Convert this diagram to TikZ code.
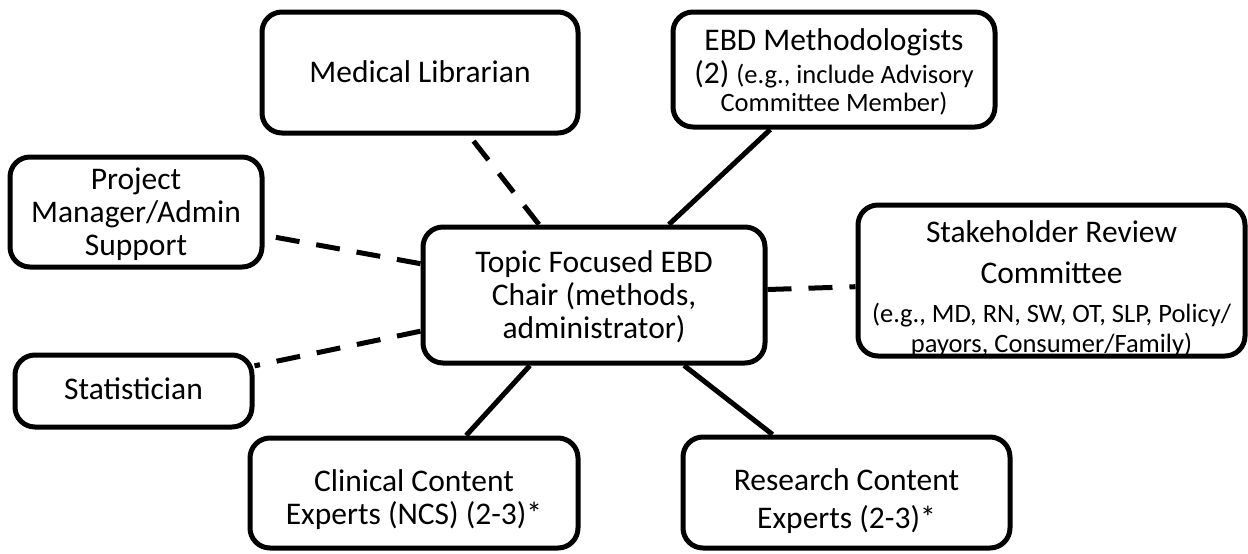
\documentclass[tikz,border=0pt]{standalone}
\usepackage{fontspec}
\setmainfont{Carlito}
\newcommand\bigtxt{\fontsize{31.5}{33}\selectfont}
\newcommand\smtxt{\fontsize{26.5}{28}\selectfont}
\begin{document}
\begin{tikzpicture}[x=1pt,y=-1pt,
  box/.style={draw, line width=5pt, rounded corners=20pt, inner sep=0pt, fill=white},
  lbl/.style={align=center, inner sep=0pt, font=\bigtxt},
  solidlink/.style={line width=5pt},
  dashlink/.style={line width=5pt, dash pattern=on 24pt off 17pt}]
\useasboundingbox (0,0) rectangle (1248,554);
\fill[white] (0,0) rectangle (1248,554);
% boxes
\node[box, minimum width=316pt, minimum height=121pt] (lib) at (420,72.5) {};
\node[box, minimum width=322pt, minimum height=115pt] (ebd) at (834,69.5) {};
\node[box, minimum width=252pt, minimum height=110pt] (pm) at (136,212) {};
\node[box, minimum width=237pt, minimum height=72pt] (stat) at (133.5,391) {};
\node[box, minimum width=342pt, minimum height=136pt] (chair) at (594,295) {};
\node[box, minimum width=387pt, minimum height=151pt] (stake) at (1051.5,280.5) {};
\node[box, minimum width=328pt, minimum height=110pt] (clin) at (414,493) {};
\node[box, minimum width=327pt, minimum height=111pt] (res) at (846.5,492.5) {};
% connectors
\draw[dashlink] (chair) -- (lib);
\draw[solidlink] (chair) -- (ebd);
\draw[dashlink] (chair) -- (pm);
\draw[dashlink] (chair) -- (stat);
\draw[dashlink] (chair) -- (stake);
\draw[solidlink] (chair) -- (clin);
\draw[solidlink] (chair) -- (res);
% texts
\node[lbl] (tlib) at (420,72) {Medical Librarian};
\node[lbl] (tebd) at (834,71.5) {EBD Methodologists\\(2) {\smtxt (e.g., include Advisory}\\[-5pt]{\smtxt Committee Member)}};
\node[lbl] (tpm) at (136,214) {Project\\Manager/Admin\\Support};
\node[lbl] (tstat) at (133.5,389) {Statistician};
\node[lbl] (tchair) at (594,296.5) {Topic Focused EBD\\Chair (methods,\\administrator)};
\node[lbl] (tstake) at (1051.5,288.5) {Stakeholder Review\\[8pt]Committee\\[6pt]{\smtxt (e.g., MD, RN, SW, OT, SLP, Policy/}\\[-3pt]{\smtxt payors, Consumer/Family)}};
\node[lbl] (tclin) at (414,500) {Clinical Content\\Experts (NCS) (2-3)*};
\node[lbl] (tres) at (846.5,501.5) {Research Content\\[5pt]Experts (2-3)*};
\end{tikzpicture}
\end{document}
